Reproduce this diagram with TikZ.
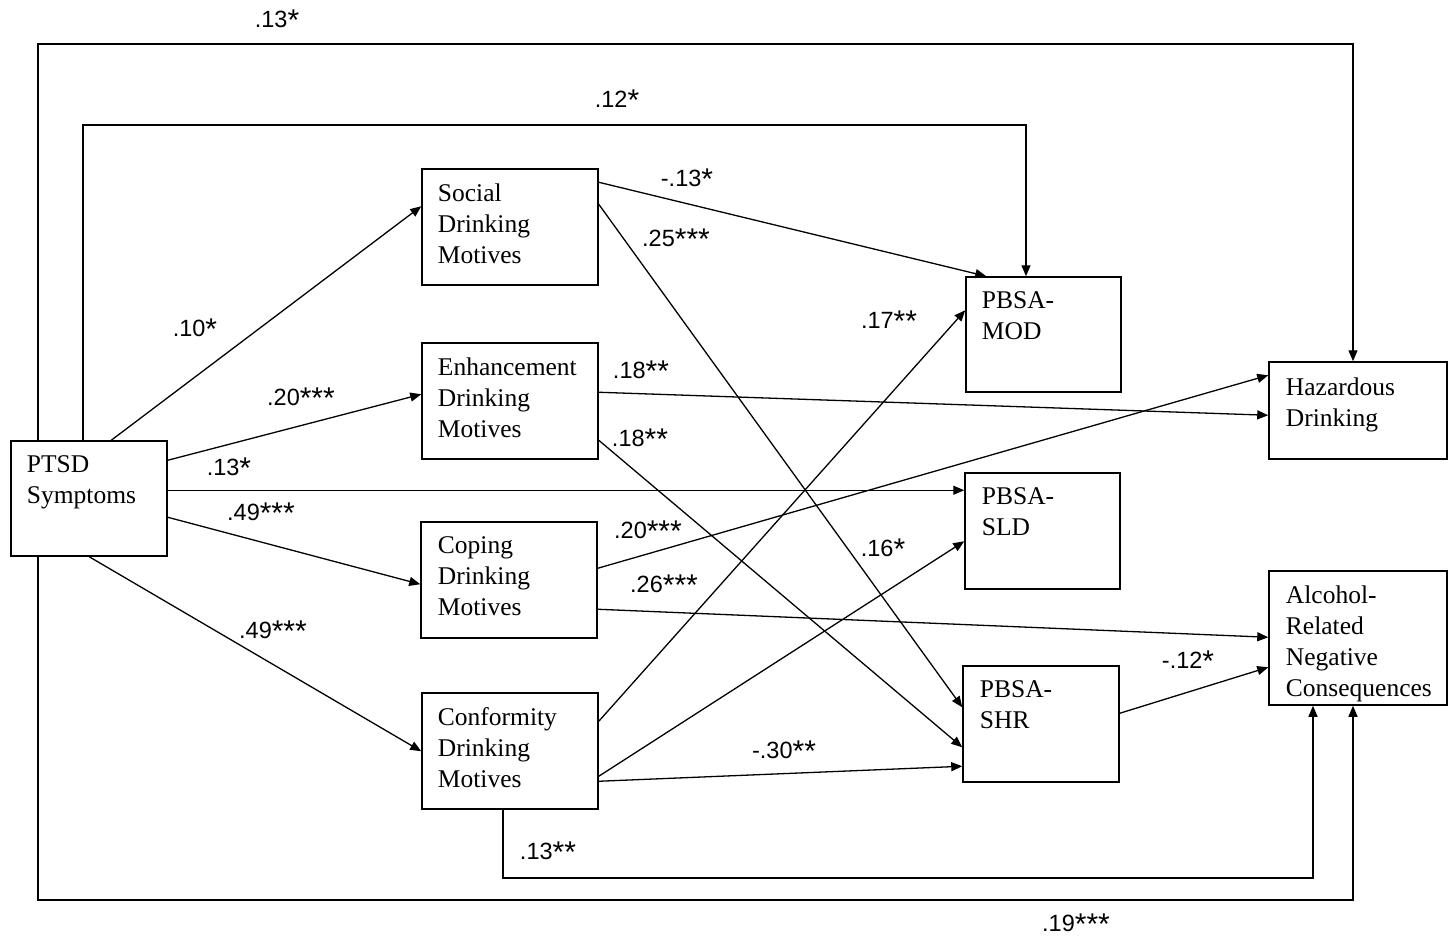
\documentclass[tikz,border=0pt]{standalone}
\usepackage{fontspec}
\setmainfont{Liberation Serif}
\newfontfamily\lblfont{Liberation Sans}
\usetikzlibrary{arrows.meta,calc}
\newcommand{\sx}{\raisebox{-2.5pt}{\fontsize{30}{30}\selectfont *}}
\begin{document}
\begin{tikzpicture}[x=1pt,y=-1pt,
  line width=1.4pt,
  box/.style={draw, line width=1.5pt, inner sep=0pt, minimum width=#1},
  box/.default=156pt,
  boxtxt/.style={anchor=north west, inner sep=0pt, align=left, font=\fontsize{25.5}{31}\selectfont},
  arr/.style={-{Triangle[length=11pt,width=9pt]}, line width=1.3pt},
  coef/.style={inner sep=0pt, font=\lblfont\fontsize{23.5}{26}\selectfont, text height=0.72em, text depth=0pt, yshift=-3pt}
]
\useasboundingbox (0,0) rectangle (1448,938);

% boxes
\node[box=156pt, minimum height=115pt] (ptsd) at (89,498.5) {};
\node[box=176pt, minimum height=116pt] (soc) at (510,227) {};
\node[box=176pt, minimum height=116pt] (enh) at (510,401) {};
\node[box=176pt, minimum height=116pt] (cop) at (509,580) {};
\node[box=176pt, minimum height=116pt] (con) at (510,751) {};
\node[box=155pt, minimum height=115pt] (mod) at (1043.5,334.5) {};
\node[box=155pt, minimum height=116pt] (sld) at (1042.5,531) {};
\node[box=156pt, minimum height=116pt] (shr) at (1041,724) {};
\node[box=178pt, minimum height=97pt] (haz) at (1358,410.5) {};
\node[box=178pt, minimum height=134pt] (alc) at (1358,638) {};

% box texts
\node[boxtxt] (tptsd) at ($(ptsd.north west)+(16,15)$) {PTSD\\Symptoms};
\node[boxtxt] (tsoc) at ($(soc.north west)+(16,15)$) {Social\\Drinking\\Motives};
\node[boxtxt] (tenh) at ($(enh.north west)+(16,15)$) {Enhancement\\Drinking\\Motives};
\node[boxtxt] (tcop) at ($(cop.north west)+(17,15)$) {Coping\\Drinking\\Motives};
\node[boxtxt] (tcon) at ($(con.north west)+(16,15)$) {Conformity\\Drinking\\Motives};
\node[boxtxt] (tmod) at ($(mod.north west)+(16,15)$) {PBSA-\\MOD};
\node[boxtxt] (tsld) at ($(sld.north west)+(17,15)$) {PBSA-\\SLD};
\node[boxtxt] (tshr) at ($(shr.north west)+(17,15)$) {PBSA-\\SHR};
\node[boxtxt] (thaz) at ($(haz.north west)+(17,16)$) {Hazardous\\Drinking};
\node[boxtxt] (talc) at ($(alc.north west)+(17,15)$) {Alcohol-\\Related\\Negative\\Consequences};

% routing coordinates
\coordinate (a1) at (38,44);
\coordinate (a2) at (1353,44);
\coordinate (b1) at (83,125);
\coordinate (b2) at (1026,125);
\coordinate (c1) at (38,900);
\coordinate (c2) at (1353,900);
\coordinate (d1) at (503,878);
\coordinate (d2) at (1313,878);

% loops
\draw[arr] (a1 |- ptsd.north) -- (a1) -- (a2) -- (a2 |- haz.north);
\draw[arr] (b1 |- ptsd.north) -- (b1) -- (b2) -- (b2 |- mod.north);
\draw[arr] (c1 |- ptsd.south) -- (c1) -- (c2) -- (c2 |- alc.south);
\draw[arr] (d1 |- con.south) -- (d1) -- (d2) -- (d2 |- alc.south);

% PTSD paths
\draw[arr] ($(ptsd.north west)+(101,0)$) -- ($(soc.north west)+(0,38)$);
\draw[arr] ($(ptsd.north east)+(0,20)$) -- ($(enh.north west)+(0,52)$);
\draw[arr] ($(ptsd.north east)+(0,50)$) -- ($(sld.north west)+(0,18)$);
\draw[arr] ($(ptsd.north east)+(0,77)$) -- ($(cop.north west)+(0,63)$);
\draw[arr] ($(ptsd.south west)+(79,0)$) -- ($(con.north west)+(0,59)$);

% motive paths
\draw[arr] ($(soc.north east)+(0,14)$) -- ($(mod.north west)+(21,0)$);
\draw[arr] ($(soc.north east)+(0,36)$) -- ($(shr.north west)+(0,42)$);
\draw[arr] ($(enh.north east)+(0,50)$) -- ($(haz.north west)+(0,54)$);
\draw[arr] ($(enh.north east)+(0,98)$) -- ($(shr.north west)+(0,82)$);
\draw[arr] ($(cop.north east)+(0,47)$) -- ($(haz.north west)+(0,14)$);
\draw[arr] ($(cop.north east)+(0,88)$) -- ($(alc.north west)+(0,67)$);
\draw[arr] ($(con.north east)+(0,29)$) -- ($(mod.north west)+(0,34)$);
\draw[arr] ($(con.north east)+(0,84)$) -- ($(sld.north west)+(0,69)$);
\draw[arr] ($(con.north east)+(0,89)$) -- ($(shr.north west)+(0,101)$);
\draw[arr] ($(shr.north east)+(0,48)$) -- ($(alc.north west)+(0,97)$);

% coefficients
\node[coef] (l1) at (277,21) {.13\sx};
\node[coef] (l2) at (617,101) {.12\sx};
\node[coef] (l3) at (195,330) {.10\sx};
\node[coef] (l4) at (301,399) {.20\sx\sx\sx};
\node[coef] (l5) at (229,469) {.13\sx};
\node[coef] (l6) at (261,514) {.49\sx\sx\sx};
\node[coef] (l7) at (273,632) {.49\sx\sx\sx};
\node[coef] (l8) at (687,180) {-.13\sx};
\node[coef] (l9) at (676,240) {.25\sx\sx\sx};
\node[coef] (l10) at (641,372) {.18\sx\sx};
\node[coef] (l11) at (640,440) {.18\sx\sx};
\node[coef] (l12) at (889,322) {.17\sx\sx};
\node[coef] (l13) at (648,532) {.20\sx\sx\sx};
\node[coef] (l14) at (883,550) {.16\sx};
\node[coef] (l15) at (664,586) {.26\sx\sx\sx};
\node[coef] (l16) at (784,752) {-.30\sx\sx};
\node[coef] (l17) at (1188,662) {-.12\sx};
\node[coef] (l18) at (548,853) {.13\sx\sx};
\node[coef] (l19) at (1076,925) {.19\sx\sx\sx};
\end{tikzpicture}
\end{document}
